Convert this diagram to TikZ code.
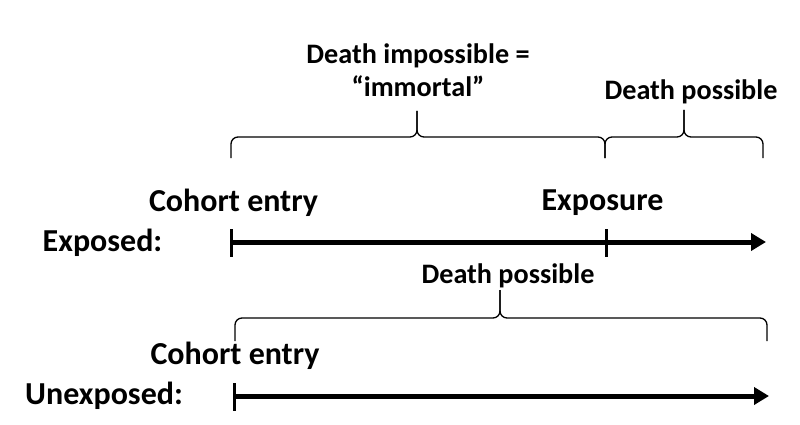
\documentclass[tikz,border=0pt]{standalone}
\usepackage{fontspec}
\setmainfont{Carlito}
\usetikzlibrary{arrows.meta}
\begin{document}
\begin{tikzpicture}[x=1pt,y=-1pt,
  lbl/.style={font=\bfseries\fontsize{32}{38}\selectfont, inner sep=0pt, anchor=base},
  slbl/.style={font=\bfseries\fontsize{28.2}{33.5}\selectfont, inner sep=0pt, anchor=base},
  timeline/.style={line width=5pt, -{Triangle[length=15pt,width=17pt]}},
  tickmark/.style={line width=3pt},
  bracestyle/.style={line width=1.3pt, rounded corners=7pt}]
\useasboundingbox (0,0) rectangle (800,425);
% labels
\node[slbl] (imp1) at (418,63.3) {Death impossible =};
\node[slbl] (imp2) at (418,96.7) {“immortal”};
\node[slbl] (dp1) at (691,99.3) {Death possible};
\node[lbl] (ce1) at (233.5,211.7) {Cohort entry};
\node[lbl] (expo) at (602.5,210) {Exposure};
\node[lbl, anchor=base west] (exd) at (42.5,251) {Exposed:};
\node[slbl] (dp2) at (508,283) {Death possible};
\node[lbl] (ce2) at (235,364) {Cohort entry};
\node[lbl, anchor=base west] (unx) at (25,404) {Unexposed:};
% exposed timeline
\coordinate (s1) at (231,242);
\coordinate (x1) at (606,242);
\coordinate (e1) at (766,242);
\draw[timeline] (s1) -- (e1);
\draw[tickmark] ([yshift=13pt]s1) -- ([yshift=-15pt]s1);
\draw[tickmark] ([yshift=13pt]x1) -- ([yshift=-15pt]x1);
% unexposed timeline
\coordinate (s2) at (234,396);
\coordinate (e2) at (769,396);
\draw[timeline] (s2) -- (e2);
\draw[tickmark] ([yshift=13pt]s2) -- ([yshift=-15pt]s2);
% brace 1
\coordinate (b1l) at (231,158);
\coordinate (b1r) at (605,158);
\coordinate (b1m) at (417,137);
\coordinate (b1t) at (417,111);
\draw[bracestyle] (b1l) |- (b1m) -- (b1t);
\draw[bracestyle] (b1r) |- (b1m) -- (b1t);
% brace 2
\coordinate (b2l) at (605,158);
\coordinate (b2r) at (763,158);
\coordinate (b2m) at (684,137);
\coordinate (b2t) at (684,110);
\draw[bracestyle] (b2l) |- (b2m) -- (b2t);
\draw[bracestyle] (b2r) |- (b2m) -- (b2t);
% brace 3
\coordinate (b3l) at (235,341);
\coordinate (b3r) at (767,341);
\coordinate (b3m) at (500,318);
\coordinate (b3t) at (500,290);
\draw[bracestyle] (b3l) |- (b3m) -- (b3t);
\draw[bracestyle] (b3r) |- (b3m) -- (b3t);
\end{tikzpicture}
\end{document}
